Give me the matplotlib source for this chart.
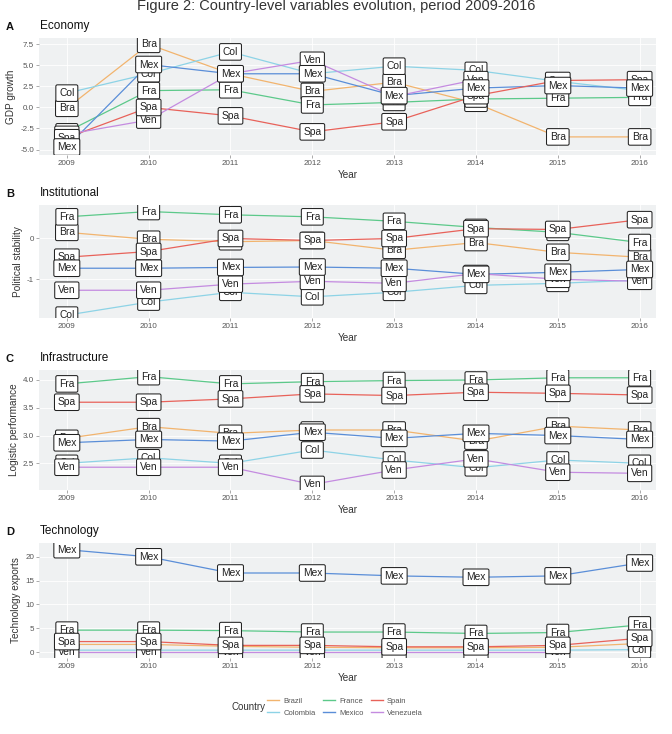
import numpy as np
import matplotlib
matplotlib.use("Agg")
import matplotlib.pyplot as plt
from matplotlib.lines import Line2D

plt.rcParams['font.family'] = ['Liberation Sans', 'DejaVu Sans']

years = [2009, 2010, 2011, 2012, 2013, 2014, 2015, 2016]
countries = ["Brazil", "Colombia", "France", "Mexico", "Spain", "Venezuela"]
abbr = {"Brazil": "Bra", "Colombia": "Col", "France": "Fra",
        "Mexico": "Mex", "Spain": "Spa", "Venezuela": "Ven"}
colors = {"Brazil": "#F2B46E", "Colombia": "#8DD3E6", "France": "#5CC98A",
          "Mexico": "#5A8ED8", "Spain": "#E8625A", "Venezuela": "#C48BE0"}
# order in which the labels are stacked (last on top)
draw_order = ["Brazil", "Colombia", "France", "Venezuela", "Spain", "Mexico"]

nan = np.nan
gdp_growth = {
    "Brazil":    [-0.1, 7.5, 4.0, 1.9, 3.0, 0.5, -3.5, -3.5],
    "Colombia":  [1.7, 4.0, 6.6, 4.0, 4.9, 4.4, 3.1, 2.0],
    "France":    [-2.9, 2.0, 2.1, 0.3, 0.6, 1.0, 1.1, 1.2],
    "Mexico":    [-4.7, 5.1, 4.0, 4.0, 1.4, 2.3, 2.6, 2.3],
    "Spain":     [-3.6, 0.0, -1.0, -2.9, -1.7, 1.4, 3.2, 3.3],
    "Venezuela": [-3.2, -1.5, 4.0, 5.6, 1.3, 3.3, nan, nan],
}
political_stability = {
    "Brazil":    [0.15, -0.02, -0.08, -0.05, -0.29, -0.10, -0.34, -0.46],
    "Colombia":  [-1.88, -1.56, -1.32, -1.43, -1.32, -1.15, -1.10, -1.02],
    "France":    [0.53, 0.66, 0.58, 0.53, 0.42, 0.27, 0.15, -0.10],
    "Mexico":    [-0.73, -0.73, -0.71, -0.70, -0.73, -0.88, -0.83, -0.76],
    "Spain":     [-0.46, -0.32, 0.00, -0.05, 0.00, 0.24, 0.22, 0.46],
    "Venezuela": [-1.27, -1.27, -1.12, -1.05, -1.10, -0.86, -1.00, -1.05],
}
logistic_performance = {
    "Brazil":    [2.95, 3.16, 3.04, 3.10, 3.10, 2.90, 3.17, 3.10],
    "Colombia":  [2.50, 2.60, 2.50, 2.74, 2.56, 2.42, 2.56, 2.50],
    "France":    [3.93, 4.06, 3.93, 3.97, 3.99, 4.00, 4.04, 4.04],
    "Mexico":    [2.87, 2.93, 2.90, 3.06, 2.95, 3.04, 3.00, 2.93],
    "Spain":     [3.60, 3.60, 3.66, 3.75, 3.72, 3.78, 3.76, 3.73],
    "Venezuela": [2.43, 2.43, 2.43, 2.12, 2.38, 2.58, 2.34, 2.32],
}
technology_exports = {
    "Brazil":    [1.6, 1.6, 1.2, 1.0, 0.9, 0.9, 1.0, 1.8],
    "Colombia":  [0.4, 0.4, 0.4, 0.4, 0.4, 0.4, 0.4, 0.5],
    "France":    [4.6, 4.6, 4.5, 4.2, 4.2, 3.9, 4.1, 5.7],
    "Mexico":    [21.5, 20.0, 16.6, 16.6, 16.0, 15.7, 16.0, 18.7],
    "Spain":     [2.2, 2.2, 1.4, 1.4, 1.1, 1.1, 1.4, 2.9],
    "Venezuela": [0.1, 0.1, 0.1, 0.1, 0.1, 0.1, 0.1, nan],
}

panels = [
    ("A", "Economy", "GDP growth", gdp_growth, (-5.65, 8.25),
     [-5.0, -2.5, 0.0, 2.5, 5.0, 7.5], ["-5.0", "-2.5", "0.0", "2.5", "5.0", "7.5"], (38, 155)),
    ("B", "Institutional", "Political stability", political_stability, (-1.95, 0.82),
     [-1, 0], ["-1", "0"], (205, 318)),
    ("C", "Infrastructure", "Logistic performance", logistic_performance, (2.02, 4.18),
     [2.5, 3.0, 3.5, 4.0], ["2.5", "3.0", "3.5", "4.0"], (370, 490)),
    ("D", "Technology", "Technology exports", technology_exports, (-1.25, 22.9),
     [0, 5, 10, 15, 20], ["0", "5", "10", "15", "20"], (543, 658)),
]

W, H = 672, 734
fig = plt.figure(figsize=(W / 100, H / 100), dpi=100)
fig.patch.set_facecolor("white")

fig.text(336 / W, 1 - 6 / H, "Figure 2: Country-level variables evolution, period 2009-2016",
         ha="center", va="center", fontsize=10.5, color="#333333")

left, right = 39, 656
for letter, title, ylabel, data, ylim, yt, ytl, (top, bottom) in panels:
    ax = fig.add_axes([left / W, 1 - bottom / H, (right - left) / W, (bottom - top) / H])
    ax.set_facecolor("#EFF1F2")
    for s in ax.spines.values():
        s.set_visible(False)
    ax.set_xlim(2008.66, 2016.2)
    ax.set_ylim(*ylim)
    ax.set_xticks(years)
    ax.set_xticklabels([str(y) for y in years])
    ax.set_yticks(yt)
    ax.set_yticklabels(ytl)
    ax.tick_params(axis="both", length=2, width=0.5, color="#888888",
                   labelsize=5.8, labelcolor="#555555", pad=1.5)
    ax.grid(True, color="white", linewidth=0.6)
    ax.set_axisbelow(True)
    ax.set_xlabel("Year", fontsize=7.2, color="#333333", labelpad=2)
    ax.set_ylabel(ylabel, fontsize=7.2, color="#333333", labelpad=3)

    for c in countries:
        ax.plot(years, data[c], color=colors[c], linewidth=0.9, zorder=2)
    z = 3
    for c in draw_order:
        for x, v in zip(years, data[c]):
            if np.isnan(v):
                continue
            ax.text(x, v, abbr[c], ha="center", va="center", fontsize=7.4,
                    color="#222222", zorder=z, clip_on=True,
                    bbox=dict(boxstyle="round,pad=0.32,rounding_size=0.15",
                              facecolor="white", edgecolor="#222222", linewidth=0.75))
        z += 1

    fig.text(6 / W, 1 - (top - 11) / H, letter, fontsize=8, fontweight="bold",
             ha="left", va="center", color="#111111")
    fig.text(40 / W, 1 - (top - 12) / H, title, fontsize=8.5, ha="left", va="center",
             color="#111111")

# legend
handles = [Line2D([0], [0], color=colors[c], linewidth=1.0) for c in countries]
leg = fig.legend(handles, countries, ncol=3, loc="center",
                 bbox_to_anchor=(345 / W, 1 - 707 / H), frameon=False,
                 fontsize=5.5, handlelength=1.6, columnspacing=1.0,
                 handletextpad=0.5, labelspacing=0.6)
for t in leg.get_texts():
    t.set_color("#555555")
fig.text(248 / W, 1 - 707 / H, "Country", fontsize=7, ha="center", va="center",
         color="#333333")

fig.savefig("out.png", dpi=100)
